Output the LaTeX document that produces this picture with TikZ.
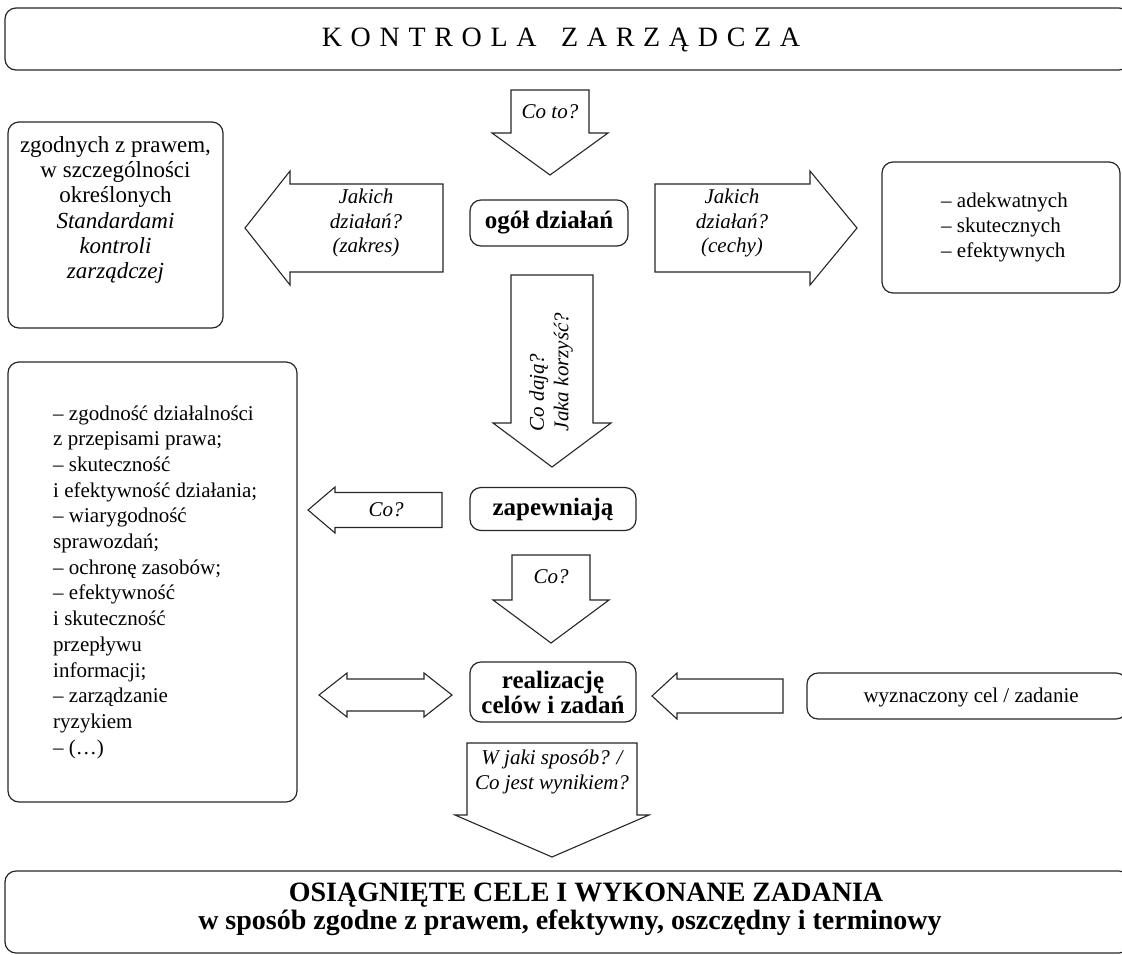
\documentclass[tikz,border=0pt]{standalone}
\usepackage{fontspec}
\setmainfont{Liberation Serif}
\newcommand\lsp{\kern 8.7pt}
\newcommand\darr[6]{\draw[arr] ({#1-#5},#2) -- ({#1+#5},#2) -- ({#1+#5},#3) -- ({#1+#6},#3) -- (#1,#4) -- ({#1-#6},#3) -- ({#1-#5},#3) -- cycle;}
\newcommand\harr[6]{\draw[arr] (#2,{#1-#5}) -- (#3,{#1-#5}) -- (#3,{#1-#6}) -- (#4,#1) -- (#3,{#1+#6}) -- (#3,{#1+#5}) -- (#2,{#1+#5}) -- cycle;}
\begin{document}
\begin{tikzpicture}[x=1pt,y=-1pt,
  box/.style={draw=black!85, line width=1.2pt, rounded corners=11pt, align=center, inner sep=0pt},
  arr/.style={draw=black!85, line width=1.1pt, fill=white, line join=miter},
  body/.style={font=\fontsize{21}{25.7}\selectfont, align=left, inner sep=0pt},
  big/.style={font=\fontsize{23}{25.3}\selectfont, align=center, inner sep=0pt},
  bld/.style={font=\fontsize{25}{25}\selectfont\bfseries, align=center},
  ital/.style={font=\fontsize{21}{24.5}\selectfont\itshape, align=center},
]
\useasboundingbox (0,0) rectangle (1122,954);

% title
\node[box, minimum width=1125pt, minimum height=62pt] (title) at (567.5,39) {};
\node[font=\fontsize{28}{30}\selectfont] (titleT) at (561,40)
  {K\lsp O\lsp N\lsp T\lsp R\lsp O\lsp L\lsp A\lsp\ \lsp Z\lsp A\lsp R\lsp Z\lsp Ą\lsp D\lsp C\lsp Z\lsp A};

% Co to? arrow
\darr{550}{90}{133}{175}{39}{58}
\node[ital] (coto) at (550,112) {Co to?};

% ogół działań
\node[box, bld, minimum width=158pt, minimum height=46pt] (ogol) at (549,223) {ogół działań};

% left box A
\node[box, minimum width=215pt, minimum height=206pt] (boxA) at (115.5,225) {};
\node[big] (boxAT) at (115.5,210)
  {zgodnych z prawem,\\ w szczególności\\ określonych\\ \textit{Standardami}\\ \textit{kontroli}\\ \textit{zarządczej}};

% zakres arrow
\harr{228}{443}{290}{245}{44}{57}
\node[ital] (zakres) at (366,223) {Jakich\\ działań?\\ (zakres)};

% cechy arrow
\harr{228}{655}{810}{857}{44}{57}
\node[ital] (cechy) at (732,223) {Jakich\\ działań?\\ (cechy)};

% right box
\node[box, minimum width=238pt, minimum height=131pt] (boxR) at (1001,227.5) {};
\node[body, font=\fontsize{21}{25}\selectfont, anchor=west] (cechyT) at (941,227) {– adekwatnych\\ – skutecznych\\ – efektywnych};

% vertical arrow
\darr{552}{275}{423}{467}{41}{59}
\node[ital, align=left, rotate=90] (coda) at (551,372) {Co dają?\\ Jaka korzyść?};

% zapewniają
\node[box, bld, minimum width=166pt, minimum height=43pt] (zap) at (553,509) {zapewniają};

% Co? left arrow
\harr{510}{442}{335}{308}{17.5}{23}
\node[ital] (co1) at (386,510) {Co?};

% left box B
\node[box, minimum width=289pt, minimum height=440pt] (boxB) at (152.5,582) {};
\node[body, anchor=west] (listB) at (53,582)
  {– zgodność działalności\\ z przepisami prawa;\\ – skuteczność\\ i efektywność działania;\\ – wiarygodność\\ sprawozdań;\\ – ochronę zasobów;\\ – efektywność\\ i skuteczność\\ przepływu\\ informacji;\\ – zarządzanie\\ ryzykiem\\ – (…)};

% Co? down arrow
\darr{551}{555}{600}{643}{39}{58}
\node[ital] (co2) at (551,577) {Co?};

% realizację
\node[box, bld, minimum width=166pt, minimum height=60pt] (real) at (553,692) {realizację\\ celów i zadań};

% double arrow
\draw[arr] (319,695) -- (347,673) -- (347,679) -- (424,679) -- (424,673) -- (452,695) -- (424,717) -- (424,711) -- (347,711) -- (347,717) -- cycle;

% arrow from wyznaczony
\harr{696}{783}{677}{652}{17}{23}

% wyznaczony box
\node[box, minimum width=320pt, minimum height=46pt] (wyzn) at (967,696) {};
\node[font=\fontsize{21}{24}\selectfont, anchor=base west] (wyznT) at (860,702) {wyznaczony cel / zadanie};

% W jaki sposób arrow
\darr{552}{743}{815}{857}{85}{97}
\node[ital] (wjaki) at (552,772) {W jaki sposób? /\\ Co jest wynikiem?};

% bottom box
\node[box, minimum width=1125pt, minimum height=82pt] (bottom) at (567.5,912) {};
\node[font=\fontsize{28}{30}\selectfont\bfseries, anchor=base] (b1) at (586,901) {OSIĄGNIĘTE CELE I WYKONANE ZADANIA};
\node[font=\fontsize{28}{30}\selectfont\bfseries, anchor=base] (b2) at (570,929) {w sposób zgodne z prawem, efektywny, oszczędny i terminowy};
\end{tikzpicture}
\end{document}
